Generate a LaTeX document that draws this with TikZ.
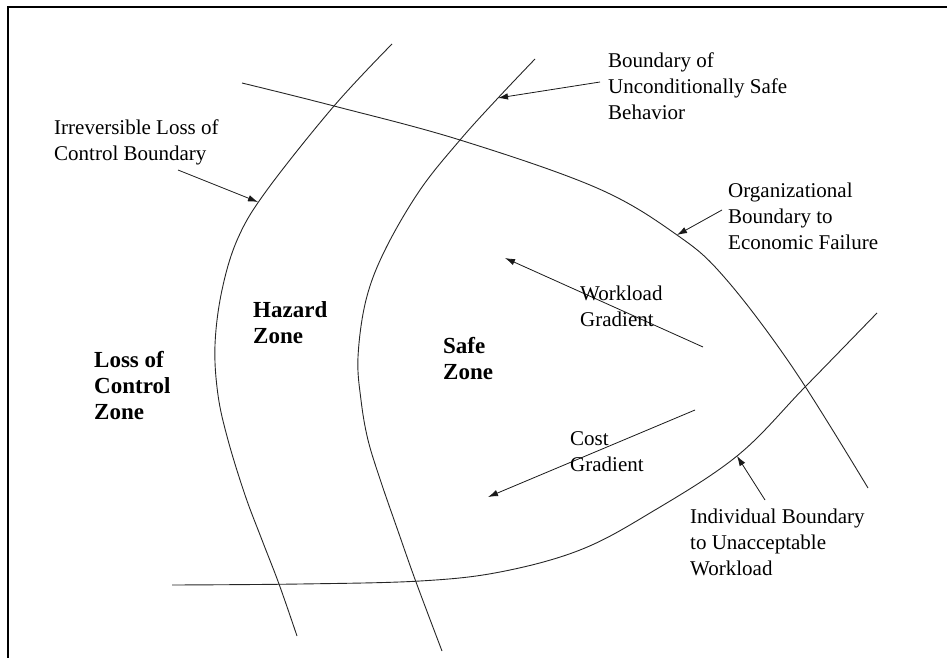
\documentclass[tikz,border=0pt]{standalone}
\usepackage{fontspec}
\setmainfont{Liberation Serif}
\usepackage{tikz}
\usetikzlibrary{arrows.meta}

\tikzset{
    bound/.style={line width=0.9pt, black!85},
    pointer/.style={line width=0.8pt, black!90, -{Latex[length=10pt,width=6.5pt]}},
    lbl/.style={anchor=north west, inner sep=0pt, align=left, font=\fontsize{21}{26}\selectfont},
    zonelbl/.style={lbl, font=\bfseries\fontsize{23}{26}\selectfont}
}

\begin{document}
\begin{tikzpicture}[x=1pt,y=-1pt]
    \useasboundingbox (0,0) rectangle (947,658);

    % Frame
    \draw[line width=2pt] (8,658) -- (8,7) -- (947,7);

    % Irreversible loss of control boundary
    \draw[bound] plot[smooth, tension=0.6] coordinates {(392,44) (334,106) (267,190) (238,238) (222,290) (215,345) (218,395) (228,440) (245,495) (262,540) (279,584) (297,636)};
    % Boundary of unconditionally safe behavior
    \draw[bound] plot[smooth, tension=0.6] coordinates {(535,59) (498,98) (460,140) (420,190) (385,250) (366,300) (358,357) (361,400) (368,440) (381,482) (398,531) (416,582) (442,651)};
    % Organizational boundary
    \draw[bound] plot[smooth, tension=0.6] coordinates {(242,83) (334,106) (460,140) (597,188) (677,235) (725,278) (793,368) (868,488)};
    % Individual boundary
    \draw[bound] plot[smooth, tension=0.6] coordinates {(172,585) (300,584) (420,581) (500,572) (580,550) (650,513) (737,456) (805,387) (877,313)};

    % Arrow ends
    \coordinate (irrTail) at (178,170);
    \coordinate (irrTip) at (258,202);
    \coordinate (safeTail) at (600,82);
    \coordinate (safeTip) at (498,98);
    \coordinate (orgTail) at (722,210);
    \coordinate (orgTip) at (677,235);
    \coordinate (indTail) at (765,500);
    \coordinate (indTip) at (737,456);
    \coordinate (workTail) at (703,347);
    \coordinate (workTip) at (505,258);
    \coordinate (costTail) at (695,410);
    \coordinate (costTip) at (488,497);

    \draw[pointer] (irrTail) -- (irrTip);
    \draw[pointer] (safeTail) -- (safeTip);
    \draw[pointer] (orgTail) -- (orgTip);
    \draw[pointer] (indTail) -- (indTip);
    \draw[pointer] (workTail) -- (workTip);
    \draw[pointer] (costTail) -- (costTip);

    % Labels
    \node[lbl] (irr) at (54,120) {Irreversible Loss of\\Control Boundary};
    \node[lbl] (safe) at (608,53) {Boundary of\\Unconditionally Safe\\Behavior};
    \node[lbl] (org) at (728,183) {Organizational\\Boundary to\\Economic Failure};
    \node[lbl] (ind) at (690,509) {Individual Boundary\\to Unacceptable\\Workload};
    \node[lbl] (work) at (580,286) {Workload\\Gradient};
    \node[lbl] (cost) at (570,431) {Cost\\Gradient};

    % Zones
    \node[zonelbl] (hazard) at (253,301) {Hazard\\Zone};
    \node[zonelbl] (safezone) at (443,337) {Safe\\Zone};
    \node[zonelbl] (loss) at (94,351) {Loss of\\Control\\Zone};
\end{tikzpicture}
\end{document}
